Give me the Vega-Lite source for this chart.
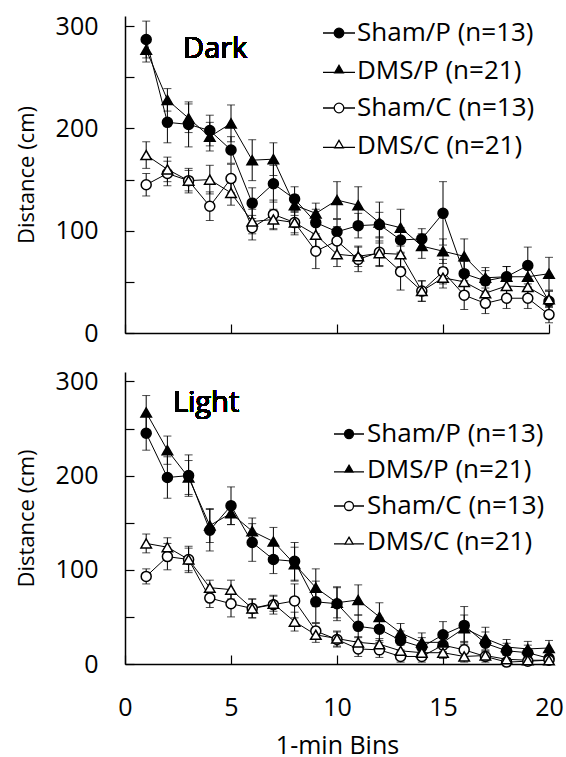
{
  "$schema": "https://vega.github.io/schema/vega-lite/v6.json",
  "padding": {"left": 15, "top": 14, "right": 0, "bottom": 0},
  "spacing": 23,
  "resolve": {"scale": {"shape": "independent", "fill": "independent"}, "legend": {"shape": "independent", "fill": "independent"}},
  "config": {
    "view": {"stroke": null},
    "axis": {"labelFont": "Open Sans", "titleFont": "Open Sans", "labelColor": "black", "titleColor": "black", "domainColor": "black", "tickColor": "black", "grid": false, "titleFontWeight": "normal", "labelFontWeight": "normal", "domainWidth": 1.5, "tickWidth": 1.2, "tickSize": -9, "labelFlush": false},
    "legend": {"labelFont": "Open Sans", "labelFontSize": 26, "labelFontWeight": "normal", "labelColor": "black", "labelLimit": 400, "padding": 0, "labelOffset": 0, "symbolStrokeColor": "black", "symbolStrokeWidth": 1.3, "symbolOpacity": 1}
  },
  "datasets": {
    "dark": [
      {"bin":1,"group":"Sham/P (n=13)","mean":287,"sem":18},{"bin":2,"group":"Sham/P (n=13)","mean":206,"sem":20},{"bin":3,"group":"Sham/P (n=13)","mean":204,"sem":22},{"bin":4,"group":"Sham/P (n=13)","mean":198,"sem":15},{"bin":5,"group":"Sham/P (n=13)","mean":179,"sem":13},{"bin":6,"group":"Sham/P (n=13)","mean":127,"sem":15},{"bin":7,"group":"Sham/P (n=13)","mean":146,"sem":18},{"bin":8,"group":"Sham/P (n=13)","mean":131,"sem":12},{"bin":9,"group":"Sham/P (n=13)","mean":108,"sem":13},{"bin":10,"group":"Sham/P (n=13)","mean":99,"sem":12},{"bin":11,"group":"Sham/P (n=13)","mean":105,"sem":12},{"bin":12,"group":"Sham/P (n=13)","mean":106,"sem":12},{"bin":13,"group":"Sham/P (n=13)","mean":91,"sem":12},{"bin":14,"group":"Sham/P (n=13)","mean":92,"sem":10},{"bin":15,"group":"Sham/P (n=13)","mean":117,"sem":31},{"bin":16,"group":"Sham/P (n=13)","mean":58,"sem":12},{"bin":17,"group":"Sham/P (n=13)","mean":51,"sem":10},{"bin":18,"group":"Sham/P (n=13)","mean":55,"sem":10},{"bin":19,"group":"Sham/P (n=13)","mean":66,"sem":18},{"bin":20,"group":"Sham/P (n=13)","mean":31,"sem":10},
      {"bin":1,"group":"DMS/P (n=21)","mean":277,"sem":12},{"bin":2,"group":"DMS/P (n=21)","mean":228,"sem":11},{"bin":3,"group":"DMS/P (n=21)","mean":210,"sem":14},{"bin":4,"group":"DMS/P (n=21)","mean":192,"sem":14},{"bin":5,"group":"DMS/P (n=21)","mean":205,"sem":18},{"bin":6,"group":"DMS/P (n=21)","mean":169,"sem":20},{"bin":7,"group":"DMS/P (n=21)","mean":170,"sem":16},{"bin":8,"group":"DMS/P (n=21)","mean":125,"sem":10},{"bin":9,"group":"DMS/P (n=21)","mean":117,"sem":10},{"bin":10,"group":"DMS/P (n=21)","mean":130,"sem":18},{"bin":11,"group":"DMS/P (n=21)","mean":125,"sem":18},{"bin":12,"group":"DMS/P (n=21)","mean":108,"sem":20},{"bin":13,"group":"DMS/P (n=21)","mean":103,"sem":18},{"bin":14,"group":"DMS/P (n=21)","mean":85,"sem":12},{"bin":15,"group":"DMS/P (n=21)","mean":80,"sem":12},{"bin":16,"group":"DMS/P (n=21)","mean":75,"sem":17},{"bin":17,"group":"DMS/P (n=21)","mean":54,"sem":10},{"bin":18,"group":"DMS/P (n=21)","mean":55,"sem":10},{"bin":19,"group":"DMS/P (n=21)","mean":55,"sem":10},{"bin":20,"group":"DMS/P (n=21)","mean":58,"sem":16},
      {"bin":1,"group":"Sham/C (n=13)","mean":145,"sem":11},{"bin":2,"group":"Sham/C (n=13)","mean":156,"sem":12},{"bin":3,"group":"Sham/C (n=13)","mean":149,"sem":12},{"bin":4,"group":"Sham/C (n=13)","mean":124,"sem":14},{"bin":5,"group":"Sham/C (n=13)","mean":151,"sem":14},{"bin":6,"group":"Sham/C (n=13)","mean":103,"sem":12},{"bin":7,"group":"Sham/C (n=13)","mean":116,"sem":14},{"bin":8,"group":"Sham/C (n=13)","mean":108,"sem":12},{"bin":9,"group":"Sham/C (n=13)","mean":80,"sem":17},{"bin":10,"group":"Sham/C (n=13)","mean":90,"sem":14},{"bin":11,"group":"Sham/C (n=13)","mean":72,"sem":12},{"bin":12,"group":"Sham/C (n=13)","mean":79,"sem":14},{"bin":13,"group":"Sham/C (n=13)","mean":60,"sem":18},{"bin":14,"group":"Sham/C (n=13)","mean":41,"sem":10},{"bin":15,"group":"Sham/C (n=13)","mean":60,"sem":12},{"bin":16,"group":"Sham/C (n=13)","mean":37,"sem":14},{"bin":17,"group":"Sham/C (n=13)","mean":29,"sem":10},{"bin":18,"group":"Sham/C (n=13)","mean":34,"sem":10},{"bin":19,"group":"Sham/C (n=13)","mean":34,"sem":10},{"bin":20,"group":"Sham/C (n=13)","mean":18,"sem":8},
      {"bin":1,"group":"DMS/C (n=21)","mean":174,"sem":13},{"bin":2,"group":"DMS/C (n=21)","mean":160,"sem":12},{"bin":3,"group":"DMS/C (n=21)","mean":149,"sem":10},{"bin":4,"group":"DMS/C (n=21)","mean":150,"sem":14},{"bin":5,"group":"DMS/C (n=21)","mean":137,"sem":12},{"bin":6,"group":"DMS/C (n=21)","mean":109,"sem":12},{"bin":7,"group":"DMS/C (n=21)","mean":111,"sem":10},{"bin":8,"group":"DMS/C (n=21)","mean":108,"sem":10},{"bin":9,"group":"DMS/C (n=21)","mean":96,"sem":12},{"bin":10,"group":"DMS/C (n=21)","mean":77,"sem":12},{"bin":11,"group":"DMS/C (n=21)","mean":75,"sem":10},{"bin":12,"group":"DMS/C (n=21)","mean":78,"sem":12},{"bin":13,"group":"DMS/C (n=21)","mean":77,"sem":12},{"bin":14,"group":"DMS/C (n=21)","mean":41,"sem":10},{"bin":15,"group":"DMS/C (n=21)","mean":54,"sem":10},{"bin":16,"group":"DMS/C (n=21)","mean":50,"sem":10},{"bin":17,"group":"DMS/C (n=21)","mean":39,"sem":8},{"bin":18,"group":"DMS/C (n=21)","mean":46,"sem":8},{"bin":19,"group":"DMS/C (n=21)","mean":45,"sem":8},{"bin":20,"group":"DMS/C (n=21)","mean":33,"sem":8}
    ],
    "light": [
      {"bin":1,"group":"Sham/P (n=13)","mean":245,"sem":18},{"bin":2,"group":"Sham/P (n=13)","mean":198,"sem":22},{"bin":3,"group":"Sham/P (n=13)","mean":200,"sem":22},{"bin":4,"group":"Sham/P (n=13)","mean":142,"sem":22},{"bin":5,"group":"Sham/P (n=13)","mean":168,"sem":20},{"bin":6,"group":"Sham/P (n=13)","mean":129,"sem":20},{"bin":7,"group":"Sham/P (n=13)","mean":111,"sem":15},{"bin":8,"group":"Sham/P (n=13)","mean":109,"sem":20},{"bin":9,"group":"Sham/P (n=13)","mean":66,"sem":22},{"bin":10,"group":"Sham/P (n=13)","mean":64,"sem":18},{"bin":11,"group":"Sham/P (n=13)","mean":40,"sem":12},{"bin":12,"group":"Sham/P (n=13)","mean":37,"sem":12},{"bin":13,"group":"Sham/P (n=13)","mean":25,"sem":10},{"bin":14,"group":"Sham/P (n=13)","mean":18,"sem":10},{"bin":15,"group":"Sham/P (n=13)","mean":31,"sem":14},{"bin":16,"group":"Sham/P (n=13)","mean":41,"sem":20},{"bin":17,"group":"Sham/P (n=13)","mean":22,"sem":12},{"bin":18,"group":"Sham/P (n=13)","mean":14,"sem":8},{"bin":19,"group":"Sham/P (n=13)","mean":12,"sem":8},{"bin":20,"group":"Sham/P (n=13)","mean":6,"sem":6},
      {"bin":1,"group":"DMS/P (n=21)","mean":267,"sem":18},{"bin":2,"group":"DMS/P (n=21)","mean":227,"sem":15},{"bin":3,"group":"DMS/P (n=21)","mean":198,"sem":18},{"bin":4,"group":"DMS/P (n=21)","mean":147,"sem":18},{"bin":5,"group":"DMS/P (n=21)","mean":160,"sem":12},{"bin":6,"group":"DMS/P (n=21)","mean":141,"sem":14},{"bin":7,"group":"DMS/P (n=21)","mean":130,"sem":15},{"bin":8,"group":"DMS/P (n=21)","mean":106,"sem":18},{"bin":9,"group":"DMS/P (n=21)","mean":81,"sem":20},{"bin":10,"group":"DMS/P (n=21)","mean":65,"sem":16},{"bin":11,"group":"DMS/P (n=21)","mean":68,"sem":16},{"bin":12,"group":"DMS/P (n=21)","mean":50,"sem":15},{"bin":13,"group":"DMS/P (n=21)","mean":33,"sem":10},{"bin":14,"group":"DMS/P (n=21)","mean":23,"sem":10},{"bin":15,"group":"DMS/P (n=21)","mean":23,"sem":10},{"bin":16,"group":"DMS/P (n=21)","mean":38,"sem":14},{"bin":17,"group":"DMS/P (n=21)","mean":27,"sem":12},{"bin":18,"group":"DMS/P (n=21)","mean":18,"sem":8},{"bin":19,"group":"DMS/P (n=21)","mean":16,"sem":8},{"bin":20,"group":"DMS/P (n=21)","mean":17,"sem":8},
      {"bin":1,"group":"Sham/C (n=13)","mean":93,"sem":8},{"bin":2,"group":"Sham/C (n=13)","mean":114,"sem":14},{"bin":3,"group":"Sham/C (n=13)","mean":111,"sem":12},{"bin":4,"group":"Sham/C (n=13)","mean":70,"sem":10},{"bin":5,"group":"Sham/C (n=13)","mean":64,"sem":14},{"bin":6,"group":"Sham/C (n=13)","mean":59,"sem":10},{"bin":7,"group":"Sham/C (n=13)","mean":63,"sem":10},{"bin":8,"group":"Sham/C (n=13)","mean":67,"sem":18},{"bin":9,"group":"Sham/C (n=13)","mean":35,"sem":8},{"bin":10,"group":"Sham/C (n=13)","mean":26,"sem":8},{"bin":11,"group":"Sham/C (n=13)","mean":16,"sem":8},{"bin":12,"group":"Sham/C (n=13)","mean":15,"sem":8},{"bin":13,"group":"Sham/C (n=13)","mean":8,"sem":6},{"bin":14,"group":"Sham/C (n=13)","mean":8,"sem":6},{"bin":15,"group":"Sham/C (n=13)","mean":20,"sem":8},{"bin":16,"group":"Sham/C (n=13)","mean":15,"sem":8},{"bin":17,"group":"Sham/C (n=13)","mean":8,"sem":6},{"bin":18,"group":"Sham/C (n=13)","mean":2,"sem":4},{"bin":19,"group":"Sham/C (n=13)","mean":3,"sem":4},{"bin":20,"group":"Sham/C (n=13)","mean":4,"sem":4},
      {"bin":1,"group":"DMS/C (n=21)","mean":128,"sem":10},{"bin":2,"group":"DMS/C (n=21)","mean":124,"sem":10},{"bin":3,"group":"DMS/C (n=21)","mean":111,"sem":14},{"bin":4,"group":"DMS/C (n=21)","mean":81,"sem":8},{"bin":5,"group":"DMS/C (n=21)","mean":79,"sem":10},{"bin":6,"group":"DMS/C (n=21)","mean":59,"sem":10},{"bin":7,"group":"DMS/C (n=21)","mean":64,"sem":8},{"bin":8,"group":"DMS/C (n=21)","mean":45,"sem":10},{"bin":9,"group":"DMS/C (n=21)","mean":31,"sem":8},{"bin":10,"group":"DMS/C (n=21)","mean":27,"sem":8},{"bin":11,"group":"DMS/C (n=21)","mean":23,"sem":6},{"bin":12,"group":"DMS/C (n=21)","mean":21,"sem":6},{"bin":13,"group":"DMS/C (n=21)","mean":14,"sem":6},{"bin":14,"group":"DMS/C (n=21)","mean":12,"sem":6},{"bin":15,"group":"DMS/C (n=21)","mean":12,"sem":6},{"bin":16,"group":"DMS/C (n=21)","mean":8,"sem":6},{"bin":17,"group":"DMS/C (n=21)","mean":9,"sem":4},{"bin":18,"group":"DMS/C (n=21)","mean":5,"sem":4},{"bin":19,"group":"DMS/C (n=21)","mean":4,"sem":3},{"bin":20,"group":"DMS/C (n=21)","mean":4,"sem":3}
    ]
  },
  "vconcat": [
    {
      "width": 424,
      "height": 317,
      "data": {"name": "dark"},
      "encoding": {
        "x": {"field": "bin", "type": "quantitative", "scale": {"domain": [0, 20], "nice": false}, "axis": {"values": [0, 5, 10, 15, 20], "labels": false, "title": null}},
        "y": {"field": "mean", "type": "quantitative", "scale": {"domain": [0, 310], "nice": false}, "axis": {"values": [0, 50, 100, 150, 200, 250, 300], "labelExpr": "datum.value % 100 === 0 ? datum.label : ''", "labelFontSize": 25, "labelPadding": 36, "title": "Distance (cm)", "titleFontSize": 22, "titlePadding": 17}}
      },
      "layer": [
        {"mark": {"type": "line", "color": "black", "strokeWidth": 1}, "encoding": {"detail": {"field": "group"}}},
        {"mark": {"type": "errorbar", "ticks": true, "size": 8, "thickness": 1, "color": "black"}, "encoding": {"yError": {"field": "sem"}, "detail": {"field": "group"}}},
        {"transform": [{"filter": "indexof(datum.group, 'Sham') == 0"}], "mark": {"type": "point", "shape": "circle", "filled": true, "size": 100, "stroke": "black", "strokeWidth": 1.5, "opacity": 1}, "encoding": {"fill": {"condition": {"test": "indexof(datum.group, '/P') > 0", "value": "black"}, "value": "white"}}},
        {"transform": [{"filter": "indexof(datum.group, 'DMS') == 0"}], "mark": {"type": "point", "shape": "triangle-up", "filled": true, "size": 110, "stroke": "black", "strokeWidth": 1.5, "opacity": 1}, "encoding": {"fill": {"condition": {"test": "indexof(datum.group, '/P') > 0", "value": "black"}, "value": "white"}}},
        {"mark": {"type": "point", "filled": true, "opacity": 0, "size": 1024, "stroke": "black", "strokeWidth": 1.3},
         "encoding": {
           "shape": {"field": "group", "type": "nominal", "scale": {"domain": ["Sham/P (n=13)", "DMS/P (n=21)", "Sham/C (n=13)", "DMS/C (n=21)"], "range": ["M-1,0L-0.3,0M0.3,0L1,0M0.3,0A0.3,0.3,0,1,1,-0.3,0A0.3,0.3,0,1,1,0.3,0Z", "M-1,0.12L-0.26,0.12M0.26,0.12L1,0.12M0,-0.32L0.27,0.14L-0.27,0.14Z", "M-1,0L-0.3,0M0.3,0L1,0M0.3,0A0.3,0.3,0,1,1,-0.3,0A0.3,0.3,0,1,1,0.3,0Z", "M-1,0.12L-0.26,0.12M0.26,0.12L1,0.12M0,-0.32L0.27,0.14L-0.27,0.14Z"]}, "legend": {"title": null, "orient": "none", "legendX": 197, "legendY": 0, "symbolSize": 1024, "rowPadding": 7.5, "labelOffset": 1, "encode": {"symbols": {"update": {"opacity": {"value": 1}, "stroke": {"value": "black"}, "strokeWidth": {"value": 1.3}}}}}},
           "fill": {"field": "group", "type": "nominal", "scale": {"domain": ["Sham/P (n=13)", "DMS/P (n=21)", "Sham/C (n=13)", "DMS/C (n=21)"], "range": ["black", "black", "white", "white"]}, "legend": {"title": null, "orient": "none", "legendX": 197, "legendY": 0, "symbolSize": 1024, "rowPadding": 7.5, "labelOffset": 1, "encode": {"symbols": {"update": {"opacity": {"value": 1}, "stroke": {"value": "black"}, "strokeWidth": {"value": 1.3}}}}}}
         }},
        {"mark": {"type": "text", "text": "Dark", "font": "Open Sans", "fontSize": 29, "fontWeight": "normal", "align": "left", "baseline": "alphabetic", "color": "black"}, "encoding": {"x": {"datum": 2.74}, "y": {"datum": 269}}}
      ]
    },
    {
      "width": 424,
      "height": 292,
      "data": {"name": "light"},
      "encoding": {
        "x": {"field": "bin", "type": "quantitative", "scale": {"domain": [0, 20], "nice": false}, "axis": {"values": [0, 5, 10, 15, 20], "labelFontSize": 25, "labelPadding": 40, "title": "1-min Bins", "titleFontSize": 25, "titlePadding": 13}},
        "y": {"field": "mean", "type": "quantitative", "scale": {"domain": [0, 310], "nice": false}, "axis": {"values": [0, 50, 100, 150, 200, 250, 300], "labelExpr": "datum.value % 100 === 0 ? datum.label : ''", "labelFontSize": 25, "labelPadding": 36, "title": "Distance (cm)", "titleFontSize": 22, "titlePadding": 17}}
      },
      "layer": [
        {"mark": {"type": "line", "color": "black", "strokeWidth": 1}, "encoding": {"detail": {"field": "group"}}},
        {"mark": {"type": "errorbar", "ticks": true, "size": 8, "thickness": 1, "color": "black"}, "encoding": {"yError": {"field": "sem"}, "detail": {"field": "group"}}},
        {"transform": [{"filter": "indexof(datum.group, 'Sham') == 0"}], "mark": {"type": "point", "shape": "circle", "filled": true, "size": 100, "stroke": "black", "strokeWidth": 1.5, "opacity": 1}, "encoding": {"fill": {"condition": {"test": "indexof(datum.group, '/P') > 0", "value": "black"}, "value": "white"}}},
        {"transform": [{"filter": "indexof(datum.group, 'DMS') == 0"}], "mark": {"type": "point", "shape": "triangle-up", "filled": true, "size": 110, "stroke": "black", "strokeWidth": 1.5, "opacity": 1}, "encoding": {"fill": {"condition": {"test": "indexof(datum.group, '/P') > 0", "value": "black"}, "value": "white"}}},
        {"mark": {"type": "point", "filled": true, "opacity": 0, "size": 900, "stroke": "black", "strokeWidth": 1.3},
         "encoding": {
           "shape": {"field": "group", "type": "nominal", "scale": {"domain": ["Sham/P (n=13)", "DMS/P (n=21)", "Sham/C (n=13)", "DMS/C (n=21)"], "range": ["M-1,0L-0.3,0M0.3,0L1,0M0.3,0A0.3,0.3,0,1,1,-0.3,0A0.3,0.3,0,1,1,0.3,0Z", "M-1,0.12L-0.26,0.12M0.26,0.12L1,0.12M0,-0.32L0.27,0.14L-0.27,0.14Z", "M-1,0L-0.3,0M0.3,0L1,0M0.3,0A0.3,0.3,0,1,1,-0.3,0A0.3,0.3,0,1,1,0.3,0Z", "M-1,0.12L-0.26,0.12M0.26,0.12L1,0.12M0,-0.32L0.27,0.14L-0.27,0.14Z"]}, "legend": {"title": null, "orient": "none", "legendX": 208, "legendY": 46, "symbolSize": 900, "rowPadding": 7, "labelOffset": 2, "encode": {"symbols": {"update": {"opacity": {"value": 1}, "stroke": {"value": "black"}, "strokeWidth": {"value": 1.3}}}}}},
           "fill": {"field": "group", "type": "nominal", "scale": {"domain": ["Sham/P (n=13)", "DMS/P (n=21)", "Sham/C (n=13)", "DMS/C (n=21)"], "range": ["black", "black", "white", "white"]}, "legend": {"title": null, "orient": "none", "legendX": 208, "legendY": 46, "symbolSize": 900, "rowPadding": 7, "labelOffset": 2, "encode": {"symbols": {"update": {"opacity": {"value": 1}, "stroke": {"value": "black"}, "strokeWidth": {"value": 1.3}}}}}}
         }},
        {"mark": {"type": "text", "text": "Light", "font": "Open Sans", "fontSize": 29, "fontWeight": "normal", "align": "left", "baseline": "alphabetic", "color": "black"}, "encoding": {"x": {"datum": 2.26}, "y": {"datum": 268}}}
      ]
    }
  ]
}
